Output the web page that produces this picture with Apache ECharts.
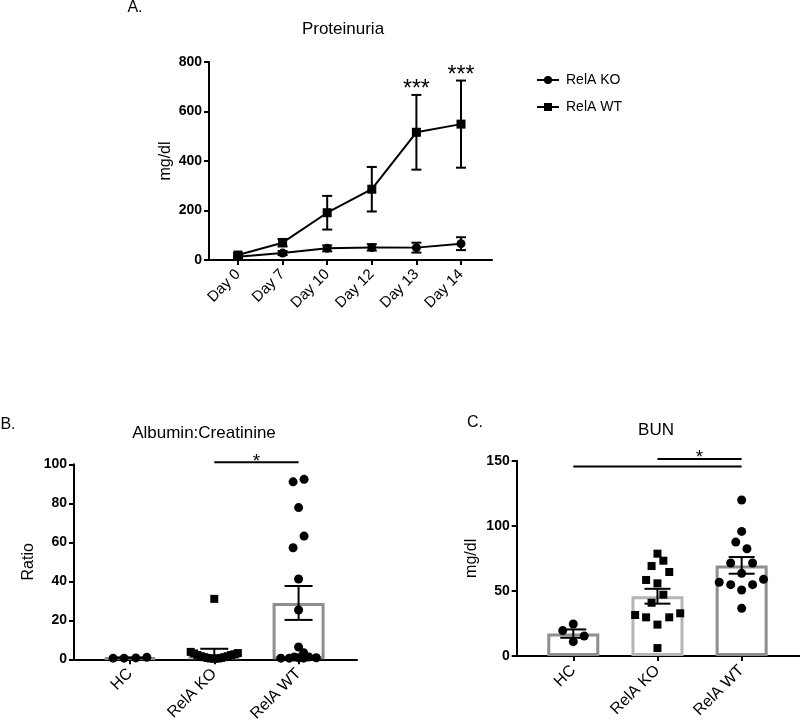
<!DOCTYPE html>
<html><head><meta charset="utf-8">
<script src="https://cdn.jsdelivr.net/npm/echarts@6/dist/echarts.min.js"></script>
<style>html,body{margin:0;padding:0;background:#fff}#c{width:800px;height:720px}</style>
</head><body><div id="c"></div>
<script>
// ---------- Panel A: Proteinuria ----------
const days = ['Day 0', 'Day 7', 'Day 10', 'Day 12', 'Day 13', 'Day 14'];
const koMean = [13, 28, 47, 51, 50, 66];
const koSem  = [5, 8, 12, 13, 20, 26];
const wtMean = [20, 70, 191, 286, 516, 549];
const wtSem  = [8, 15, 68, 90, 151, 176];
const sigA   = ['', '', '', '', '***', '***'];

// ---------- Panels B and C: groups ----------
const groups = ['HC', 'RelA KO', 'RelA WT'];

// B: Albumin:Creatinine ratio
const acrMean = [0.8, 2.6, 28.9];
const acrSem  = [0.2, 2.8, 8.7];
const acrHC   = [0.6, 0.6, 0.7, 1.0];
const acrHCx  = [-0.2, -0.07, 0.07, 0.2];
const acrKO   = [3.8, 3.0, 2.2, 1.6, 1.1, 0.7, 0.4, 0.3, 0.4, 0.7, 1.1, 1.6, 2.2, 2.6, 3.2, 31];
const acrKOx  = [-0.28, -0.24, -0.2, -0.16, -0.12, -0.08, -0.04, 0, 0.04, 0.08, 0.12, 0.16, 0.2, 0.24, 0.28, 0];
const acrWT   = [91, 92.3, 77.8, 63.2, 57.2, 41.2, 25.3, 6.3, 0.6, 0.6, 1.2, 0.8, 3.4, 0.6, 1.2, 0.8];
const acrWTx  = [-0.065, 0.065, 0, 0.065, -0.065, 0, 0, 0, -0.21, -0.11, -0.05, 0, 0.06, 0.06, 0.12, 0.21];
const acrSig  = [[1, 2, 101, '*']];

// C: BUN
const bunMean = [17.2, 45.9, 69.6];
const bunSem  = [3.2, 5.7, 6.4];
const bunHC   = [24.6, 19.5, 15.4, 11];
const bunHCx  = [0, -0.125, 0.13, 0];
const bunKO   = [78.6, 73.2, 69.1, 64.5, 58.4, 55.8, 47.1, 40.9, 31.5, 32.8, 29.7, 29.7, 24.1, 6.1];
const bunKOx  = [0, 0.07, -0.07, 0.14, -0.135, 0, 0.07, -0.07, -0.265, 0.27, -0.135, 0.14, 0, 0];
const bunWT   = [119.8, 95.7, 87.5, 82.4, 71.4, 71.4, 63.5, 56.6, 58.9, 54.8, 54.8, 50.7, 36.6];
const bunWTx  = [0, 0, -0.07, 0.063, -0.13, 0.13, 0, -0.266, 0.26, -0.13, 0.13, 0, 0];
const bunSig  = [[1, 2, 151.3, '*'], [0, 2, 145.5, '']];

// ---------- styling ----------
const FF = '"Liberation Sans", Arial, Helvetica, sans-serif';
const barColors = ['#8e8e8e', '#b5b5b5', '#8e8e8e'];

function xAxisDef(gridIndex, min, max, labels, fontSize) {
  const ticks = labels.map((_, i) => i);
  return {
    type: 'value', gridIndex, min, max,
    axisLine: { show: true, onZero: false, lineStyle: { color: '#000', width: 2 } },
    axisTick: { show: true, customValues: ticks, length: 5, lineStyle: { color: '#000', width: 2 } },
    axisLabel: { customValues: ticks, formatter: v => labels[Math.round(v)], rotate: 45, margin: 12,
      fontSize, color: '#000', fontFamily: FF },
    splitLine: { show: false }
  };
}
function yAxisDef(gridIndex, max, interval, name, nameGap) {
  return {
    type: 'value', gridIndex, min: 0, max, interval,
    axisLine: { show: true, onZero: false, lineStyle: { color: '#000', width: 2 } },
    axisTick: { show: true, length: 5, lineStyle: { color: '#000', width: 2 } },
    axisLabel: { fontSize: 14, fontWeight: 'bold', color: '#000', margin: 7, fontFamily: FF },
    splitLine: { show: false },
    name, nameLocation: 'middle', nameGap, nameRotate: 90,
    nameTextStyle: { fontSize: 16, color: '#000', fontFamily: FF }
  };
}

function errSeries(idx, means, sems, capHalf, xs) {
  return {
    type: 'custom', xAxisIndex: idx, yAxisIndex: idx, clip: false, z: 5, silent: true,
    data: means.map((m, i) => [xs ? xs[i] : i, m, sems[i]]),
    renderItem: (params, api) => {
      const x = api.value(0), m = api.value(1), e = api.value(2);
      const t = api.coord([x, m + e]);
      const b = api.coord([x, Math.max(0, m - e)]);
      const st = { stroke: '#000', lineWidth: 2 };
      return { type: 'group', children: [
        { type: 'line', shape: { x1: t[0], y1: t[1], x2: b[0], y2: b[1] }, style: st },
        { type: 'line', shape: { x1: t[0] - capHalf, y1: t[1], x2: t[0] + capHalf, y2: t[1] }, style: st },
        { type: 'line', shape: { x1: b[0] - capHalf, y1: b[1], x2: b[0] + capHalf, y2: b[1] }, style: st }
      ] };
    }
  };
}
function sigSeries(idx, sig) {
  return {
    type: 'custom', xAxisIndex: idx, yAxisIndex: idx, clip: false, z: 6, silent: true,
    data: sig.map(s => [s[0], s[2], s[1]]),
    renderItem: (params, api) => {
      const a = api.coord([api.value(0), api.value(1)]);
      const b = api.coord([api.value(2), api.value(1)]);
      const txt = sig[params.dataIndex][3];
      const ch = [{ type: 'line', shape: { x1: a[0], y1: a[1], x2: b[0], y2: b[1] }, style: { stroke: '#000', lineWidth: 2 } }];
      if (txt) ch.push({ type: 'text', x: (a[0] + b[0]) / 2, y: a[1] - 1,
        style: { text: txt, fill: '#000', font: '19px ' + FF, textAlign: 'center', textVerticalAlign: 'middle' } });
      return { type: 'group', children: ch };
    }
  };
}
function starSeries() {
  return {
    type: 'custom', xAxisIndex: 0, yAxisIndex: 0, clip: false, z: 6, silent: true,
    data: wtMean.map((m, i) => [i, m + wtSem[i]]),
    renderItem: (params, api) => {
      const txt = sigA[params.dataIndex];
      if (!txt) return null;
      const p = api.coord([api.value(0), api.value(1)]);
      return { type: 'text', x: p[0], y: p[1] - 5,
        style: { text: txt, fill: '#000', font: '23px ' + FF, textAlign: 'center', textVerticalAlign: 'middle' } };
    }
  };
}
function pts(vals, offs, base) { return vals.map((v, i) => [base + offs[i], v]); }
function scatter(idx, name, data, symbol, size) {
  return { type: 'scatter', name, xAxisIndex: idx, yAxisIndex: idx, data, symbol, symbolSize: size,
    itemStyle: { color: '#000', opacity: 1 }, z: 4, silent: true };
}
function barSeries(idx, means) {
  return {
    type: 'bar', xAxisIndex: idx, yAxisIndex: idx, barWidth: 52, z: 2, silent: true,
    data: means.map((m, i) => ({ value: [i, m], itemStyle: { color: '#fff', borderColor: barColors[i], borderWidth: 3 } }))
  };
}

const chart = echarts.init(document.getElementById('c'), null, { renderer: 'canvas' });
const txt = (t, x, y, size) => ({ type: 'text', x, y,
  style: { text: t, fill: '#000', font: size + 'px ' + FF, textAlign: 'center', textVerticalAlign: 'middle' } });

chart.setOption({
  animation: false,
  backgroundColor: '#fff',
  textStyle: { fontFamily: FF },
  graphic: [
    txt('A.', 135, 8, 16), txt('Proteinuria', 343, 29, 17),
    txt('B.', 8, 425, 16), txt('Albumin:Creatinine', 204, 433, 17),
    txt('C.', 475, 423, 16), txt('BUN', 656, 430, 17)
  ],
  legend: {
    data: ['RelA KO', 'RelA WT'], orient: 'vertical', left: 531, top: 68, itemGap: 13,
    itemWidth: 22, itemHeight: 10, textStyle: { fontSize: 14, color: '#000', fontFamily: FF, padding: [0, 0, 0, 2] },
    selectedMode: false
  },
  grid: [
    { left: 209, top: 62, width: 283, height: 198, outerBoundsMode: 'none', containLabel: false },
    { left: 74, top: 464.3, width: 283, height: 195, outerBoundsMode: 'none', containLabel: false },
    { left: 516.7, top: 460.7, width: 283.3, height: 195.3, outerBoundsMode: 'none', containLabel: false }
  ],
  xAxis: [
    xAxisDef(0, -0.65, 5.695, days, 15),
    xAxisDef(1, -0.664, 2.693, groups, 16),
    xAxisDef(2, -0.672, 2.693, groups, 16)
  ],
  yAxis: [
    yAxisDef(0, 800, 200, 'mg/dl', 35),
    yAxisDef(1, 100, 20, 'Ratio', 37),
    yAxisDef(2, 150, 50, 'mg/dl', 37)
  ],
  series: [
    { type: 'line', name: 'RelA KO', xAxisIndex: 0, yAxisIndex: 0, data: koMean.map((v, i) => [i, v]),
      symbol: 'circle', symbolSize: 9, itemStyle: { color: '#000' }, lineStyle: { color: '#000', width: 2 }, z: 4 },
    { type: 'line', name: 'RelA WT', xAxisIndex: 0, yAxisIndex: 0, data: wtMean.map((v, i) => [i, v]),
      symbol: 'rect', symbolSize: 9, itemStyle: { color: '#000' }, lineStyle: { color: '#000', width: 2 }, z: 4 },
    errSeries(0, koMean, koSem, 5),
    errSeries(0, wtMean, wtSem, 5),
    starSeries(),

    barSeries(1, acrMean),
    scatter(1, 'acrHC', pts(acrHC, acrHCx, 0), 'circle', 9),
    scatter(1, 'acrKO', pts(acrKO, acrKOx, 1), 'rect', 8),
    scatter(1, 'acrWT', pts(acrWT, acrWTx, 2), 'circle', 9),
    errSeries(1, acrMean, acrSem, 14),
    sigSeries(1, acrSig),

    barSeries(2, bunMean),
    scatter(2, 'bunHC', pts(bunHC, bunHCx, 0), 'circle', 9),
    scatter(2, 'bunKO', pts(bunKO, bunKOx, 1), 'rect', 8),
    scatter(2, 'bunWT', pts(bunWT, bunWTx, 2), 'circle', 9),
    errSeries(2, bunMean, bunSem, 13),
    sigSeries(2, bunSig)
  ]
});
</script>
</body></html>
